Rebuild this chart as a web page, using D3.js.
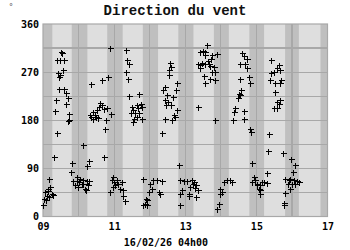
<!DOCTYPE html>
<html><head><meta charset="utf-8">
<script src="https://cdn.jsdelivr.net/npm/d3@7"></script>
<style>body{margin:0;background:#fff}svg{display:block}</style>
</head><body>
<svg id="c" width="350" height="250"></svg>
<script>
// ---- data ----
const title = "Direction du vent";
const unitLabel = "°";
const dateLabel = "16/02/26 04h00";
const xTicks = [9, 11, 13, 15, 17];
const xTickLabels = ["09", "11", "13", "15", "17"];
const yTicks = [0, 90, 180, 270, 360];
const yGrid = [45, 90, 135, 180, 225, 270, 315];
const dayGrid = [10, 11, 12, 13, 14, 15, 16];
// night bands (day numbers, start/end)
const nightStart = [9.0, 9.808, 10.806, 11.806, 12.805, 13.805, 14.803, 15.808, 16.803];
const nightEnd   = [9.262, 10.248, 11.24, 12.235, 13.23, 14.225, 15.217, 16.195, 17.0];
// observations: time (day of month, fractional) and direction (degrees)
const times = [
 9.507,9.535,9.403,9.592,9.479,9.572,9.431,9.479,9.459,9.451,9.592,9.639,9.696,9.358,9.648,9.338,9.732,9.732,9.71,9.386,
 10.344,10.654,10.823,10.896,10.606,10.654,10.569,10.811,10.718,10.513,10.4,10.324,10.465,10.352,10.493,10.541,10.417,10.775,10.915,10.746,
 10.135,9.31,10.727,10.304,9.808,10.231,9.78,9.178,
 9.056,9.149,9.245,9.104,9.273,9.037,9.177,9.008,9.085,9.197,9.149,
 9.854,9.949,10.042,10.023,10.135,10.248,10.304,9.901,9.994,10.09,10.183,10.211,10.118,9.966,10.276,
 10.98,
 11.338,11.375,11.423,11.338,11.403,11.431,11.713,
 11.499,11.639,11.752,11.544,11.685,11.78,11.47,11.592,11.713,11.563,11.78,11.527,11.639,
 12.344,
 12.558,12.606,12.541,12.53,12.766,12.437,12.372,12.746,12.485,12.654,12.417,12.511,12.465,12.606,12.766,12.67,12.417,12.718,12.625,
 13.347,13.825,
 13.611,13.499,13.423,13.563,13.544,13.752,13.893,13.47,13.347,13.403,13.563,13.656,13.704,13.797,13.845,13.752,13.423,13.516,13.685,13.845,13.563,13.724,13.628,
 12.811,11.808,
 10.935,11.0,11.076,11.121,11.217,10.963,11.169,11.245,10.887,11.262,11.31,11.028,
 12.014,12.107,12.203,12.344,12.062,11.994,12.248,12.296,11.901,11.938,11.825,11.921,11.873,
 12.859,12.972,13.048,13.189,13.234,13.31,12.907,13.141,13.094,13.282,13.347,12.859,13.094,13.31,12.839,13.211,
 13.986,14.034,14.099,14.175,13.938,13.893,13.986,
 14.597,14.642,14.738,14.549,14.69,14.738,14.541,14.783,14.831,14.569,14.501,14.473,14.549,14.408,14.36,14.642,14.341,14.642,14.831,14.851,15.346,
 15.414,15.628,15.583,15.487,15.676,15.414,15.394,15.535,15.696,15.676,15.535,15.676,15.583,15.628,15.487,15.583,
 15.318,15.741,15.986,16.079,16.023,15.301,14.879,
 14.268,14.315,14.924,14.972,14.879,15.02,15.113,15.065,15.161,15.206,15.301,15.113,15.093,15.02,
 15.817,15.91,15.958,16.051,16.146,15.882,16.006,16.099,15.958,15.817,15.789,15.769,16.192
];
const directions = [
 308,305,292,292,292,274,268,264,261,239,239,231,221,218,211,197,191,180,178,156,
 248,256,261,316,212,208,204,202,201,200,196,189,189,186,186,184,183,180,191,163,
 133,111,111,104,100,94,83,71,
 46,47,43,39,41,33,36,22,30,56,52,
 66,66,71,64,68,66,66,58,55,60,52,49,61,74,59,
 74,
 311,292,286,271,258,225,229,
 205,208,211,199,202,204,193,193,193,183,183,177,186,
 156,
 287,280,274,264,249,242,236,236,227,224,218,214,208,208,199,189,183,186,180,
 205,180,
 321,310,307,307,302,302,303,287,286,283,286,285,281,280,271,271,277,263,258,255,249,294,291,
 96,71,
 68,64,69,61,64,55,52,50,46,39,29,58,
 61,68,68,66,52,46,46,43,33,30,21,21,24,
 68,66,66,68,64,58,49,55,43,54,50,43,38,36,21,61,
 52,46,64,68,24,14,43,
 306,300,294,286,286,277,258,261,249,236,230,221,227,202,196,198,180,183,163,158,155,
 293,283,277,271,274,268,255,249,255,249,233,218,214,211,202,202,
 123,119,108,97,84,81,100,
 68,64,74,68,64,61,58,52,64,64,62,49,43,58,
 71,68,71,68,66,61,61,60,52,44,25,21,64
];

// ---- chart ----
const svg = d3.select("#c");
const L = 43, R = 327.5, T = 24, B = 216.5;
const x = d3.scaleLinear().domain([9, 17]).range([L, R]);
const y = d3.scaleLinear().domain([0, 360]).range([B, T]);

svg.append("rect").attr("x", L).attr("y", T).attr("width", R - L).attr("height", B - T).attr("fill", "#dedede");
svg.append("g").selectAll("rect").data(nightStart.map((s, i) => [s, nightEnd[i]])).join("rect")
  .attr("x", d => x(d[0])).attr("width", d => x(d[1]) - x(d[0]))
  .attr("y", T).attr("height", B - T).attr("fill", "#bfbfbf");

const grid = svg.append("g").attr("stroke", "#a8a8a8").attr("stroke-width", 1.2).attr("shape-rendering", "crispEdges");
grid.selectAll(".h").data(yGrid).join("line")
  .attr("x1", L).attr("x2", R).attr("y1", d => y(d)).attr("y2", d => y(d));
grid.selectAll(".v").data(dayGrid).join("line")
  .attr("y1", T).attr("y2", B).attr("x1", d => x(d)).attr("x2", d => x(d));
svg.append("rect").attr("x", L).attr("y", T).attr("width", R - L).attr("height", B - T)
  .attr("fill", "none").attr("stroke", "#a8a8a8").attr("stroke-width", 1.2);

// axes via d3 axis generators (styled without domain/ticks)
const yAxis = d3.axisLeft(y).tickValues(yTicks).tickSize(0).tickPadding(4);
const gy = svg.append("g").attr("transform", `translate(${L},0)`).call(yAxis);
const xAxis = d3.axisBottom(x).tickValues(xTicks).tickSize(0).tickPadding(6)
  .tickFormat((d, i) => xTickLabels[i]);
const gx = svg.append("g").attr("transform", `translate(0,${B})`).call(xAxis);
[gx, gy].forEach(g => {
  g.select(".domain").remove();
  g.selectAll("text").attr("font-family", "DejaVu Sans Mono").attr("font-weight", "bold")
    .attr("font-size", "10px").attr("fill", "#000");
});

// points
svg.append("g").attr("stroke", "#000").attr("stroke-width", 1).attr("fill", "none")
  .attr("shape-rendering", "crispEdges")
  .selectAll("path").data(times.map((t, i) => [t, directions[i]])).join("path")
  .attr("d", d => {
    const cx = Math.round(x(d[0])) + 0.5, cy = Math.round(y(d[1])) + 0.5;
    return `M${cx - 3},${cy}H${cx + 3}M${cx},${cy - 3}V${cy + 3}`;
  });

svg.append("text").attr("x", 175).attr("y", 15).attr("text-anchor", "middle")
  .attr("font-family", "Liberation Mono").attr("font-weight", "bold").attr("font-size", "14px")
  .attr("fill", "#111")
  .text(title);
svg.append("text").attr("x", 11).attr("y", 10).attr("text-anchor", "middle")
  .attr("font-family", "DejaVu Sans").attr("font-size", "8px").attr("fill", "#555")
  .text(unitLabel);
svg.append("text").attr("x", 166).attr("y", 246).attr("text-anchor", "middle")
  .attr("font-family", "DejaVu Sans Mono").attr("font-weight", "bold").attr("font-size", "10px")
  .text(dateLabel);
</script>
</body></html>
